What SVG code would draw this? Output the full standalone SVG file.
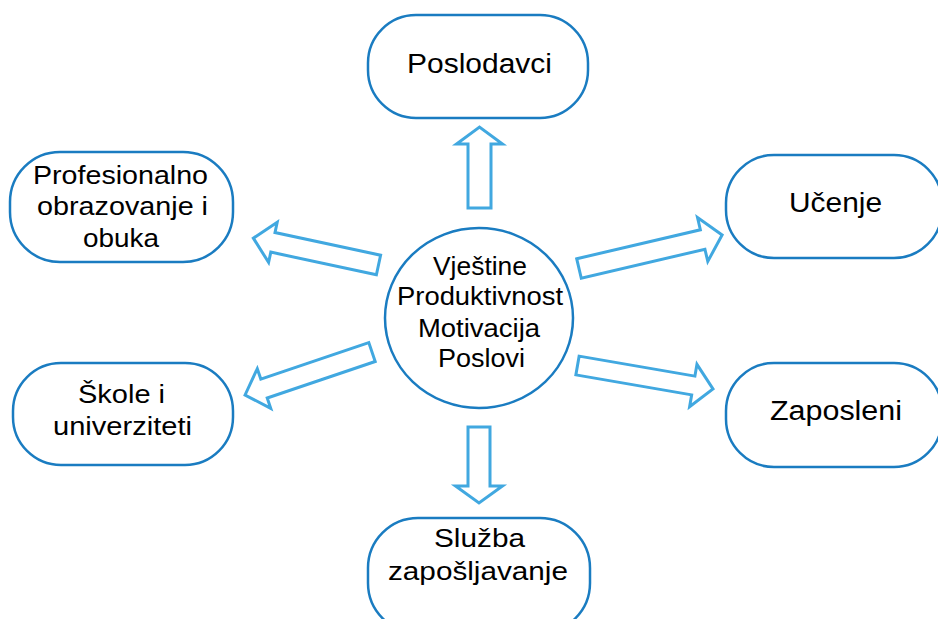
<svg xmlns="http://www.w3.org/2000/svg" width="938" height="619" viewBox="0 0 938 619">
<style>
.node{fill:#fff;stroke:#1a7cc1;stroke-width:2.5}
.arr{fill:#fff;stroke:#41a8e0;stroke-width:3;stroke-linejoin:miter}
text{font-family:"Liberation Sans",Arial,sans-serif;fill:#000;text-anchor:middle}
.big{font-size:27px}
.mid{font-size:25px}
</style>
<rect width="938" height="619" fill="#fff"/>
<g id="connectors">
<polygon class="arr" transform="translate(479.5,208) rotate(-90)" points="0,-11.5 64,-11.5 64,-23 81,0 64,23 64,11.5 0,11.5"/>
<polygon class="arr" transform="translate(479,427) rotate(90)" points="0,-11 59,-11 59,-23.5 76,0 59,23.5 59,11 0,11"/>
<polygon class="arr" transform="translate(378.5,265) rotate(192.1)" points="0,-10 108,-10 108,-20.5 128,0 108,20.5 108,10 0,10"/>
<polygon class="arr" transform="translate(579,268.5) rotate(-13.2)" points="0,-10 127,-10 127,-22.5 147,0 127,22.5 127,10 0,10"/>
<polygon class="arr" transform="translate(577.5,365.5) rotate(9.8)" points="0,-9.5 117.5,-9.5 117.5,-21.5 137.5,0 117.5,21.5 117.5,9.5 0,9.5"/>
<polygon class="arr" transform="translate(372,352) rotate(161.3)" points="0,-10 114,-10 114,-21 134,0 114,21 114,10 0,10"/>
</g>
<g id="center">
<ellipse class="node" cx="479" cy="318" rx="94" ry="90"/>
<text class="mid" x="480" y="275" textLength="94" lengthAdjust="spacingAndGlyphs">Vještine</text>
<text class="mid" x="480" y="305" textLength="166" lengthAdjust="spacingAndGlyphs">Produktivnost</text>
<text class="mid" x="479" y="337" textLength="122" lengthAdjust="spacingAndGlyphs">Motivacija</text>
<text class="mid" x="481.5" y="367" textLength="87" lengthAdjust="spacingAndGlyphs">Poslovi</text>
</g>
<g id="poslodavci">
<rect class="node" x="368" y="15" width="220" height="103" rx="48"/>
<text class="big" x="479.5" y="73" textLength="145" lengthAdjust="spacingAndGlyphs">Poslodavci</text>
</g>
<g id="profesionalno">
<rect class="node" x="10" y="152" width="223" height="110" rx="50"/>
<text class="mid" x="120.5" y="184" textLength="175" lengthAdjust="spacingAndGlyphs">Profesionalno</text>
<text class="mid" x="122.5" y="215" textLength="171" lengthAdjust="spacingAndGlyphs">obrazovanje i</text>
<text class="mid" x="121" y="247" textLength="76" lengthAdjust="spacingAndGlyphs">obuka</text>
</g>
<g id="ucenje">
<rect class="node" x="726" y="155" width="216" height="103" rx="48"/>
<text class="big" x="835.5" y="212" textLength="93" lengthAdjust="spacingAndGlyphs">Učenje</text>
</g>
<g id="skole">
<rect class="node" x="13" y="363" width="220" height="102" rx="48"/>
<text class="mid" x="121.5" y="403" textLength="87" lengthAdjust="spacingAndGlyphs">Škole i</text>
<text class="mid" x="122.5" y="435" textLength="139" lengthAdjust="spacingAndGlyphs">univerziteti</text>
</g>
<g id="zaposleni">
<rect class="node" x="726" y="363" width="216" height="104" rx="48"/>
<text class="big" x="836" y="420" textLength="132" lengthAdjust="spacingAndGlyphs">Zaposleni</text>
</g>
<g id="sluzba">
<rect class="node" x="368" y="518" width="222" height="115" rx="50"/>
<text class="mid" x="479.5" y="547" textLength="91" lengthAdjust="spacingAndGlyphs">Služba</text>
<text class="mid" x="478" y="580" textLength="180" lengthAdjust="spacingAndGlyphs">zapošljavanje</text>
</g>
</svg>
